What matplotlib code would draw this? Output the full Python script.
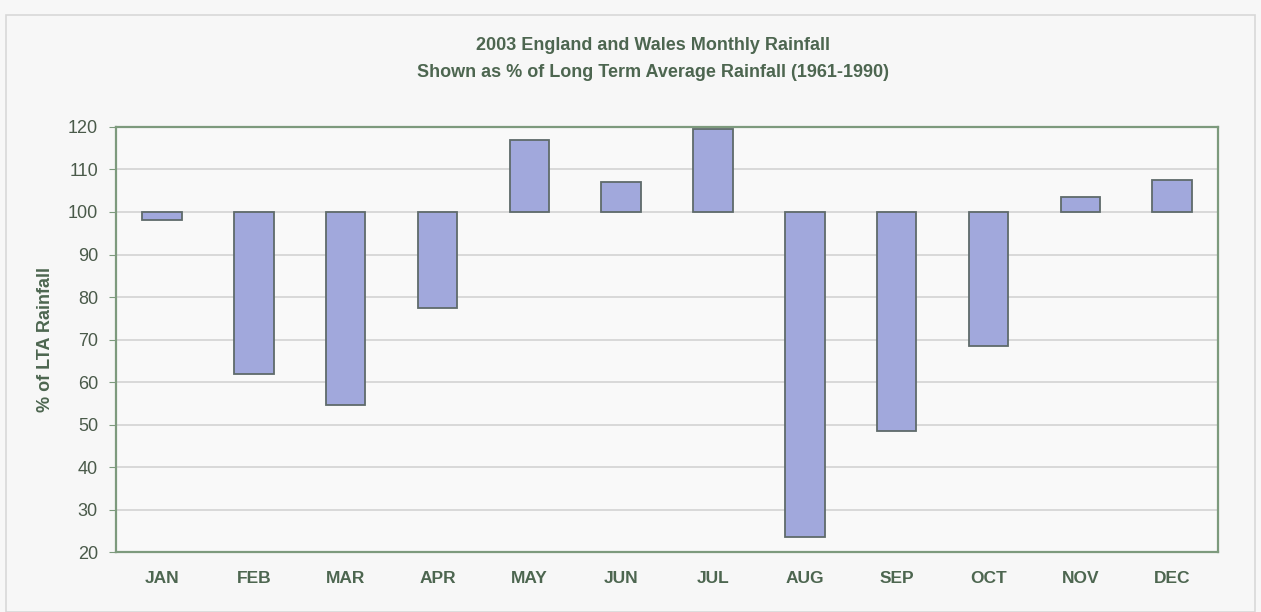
import matplotlib
matplotlib.use("Agg")
import matplotlib.pyplot as plt
import numpy as np

months = ["JAN", "FEB", "MAR", "APR", "MAY", "JUN", "JUL", "AUG", "SEP", "OCT", "NOV", "DEC"]
pct_lta = [98, 62, 54.5, 77.5, 117, 107, 119.5, 23.5, 48.5, 68.5, 103.5, 107.5]
baseline = 100
yticks = [20, 30, 40, 50, 60, 70, 80, 90, 100, 110, 120]

plt.rcParams['font.family'] = ['Liberation Sans', 'DejaVu Sans']
text_col = "#4d6650"
fig = plt.figure(figsize=(12.61, 6.12), dpi=100, facecolor="#f7f7f7")
ax = fig.add_axes([0.092, 0.098, 0.874, 0.6945])
ax.set_facecolor("#f9f9f9")

x = np.arange(len(months))
heights = [v - baseline for v in pct_lta]
ax.bar(x, heights, bottom=baseline, width=0.43, color="#a1a8dc",
       edgecolor="#5f6b6b", linewidth=1.3, zorder=3)

ax.set_ylim(20, 120)
ax.set_xlim(-0.5, len(months) - 0.5)
ax.set_yticks(yticks)
ax.set_yticklabels([str(t) for t in yticks], fontsize=13, color="#4a5a4a")
ax.set_xticks(x)
ax.set_xticklabels(months, fontsize=12.5, color=text_col, fontweight="bold")
ax.tick_params(axis='x', length=0, pad=14)
ax.tick_params(axis='y', length=5, color="#7d9a7d", pad=8)
ax.grid(axis='y', color="#d3d3d3", linewidth=1.2, zorder=0)
for s in ax.spines.values():
    s.set_color("#7d9a7d")
    s.set_linewidth(1.6)

ax.set_ylabel("% of LTA Rainfall", fontsize=13, color=text_col, fontweight="bold", labelpad=10)

fig.text(0.518, 0.925, "2003 England and Wales Monthly Rainfall", ha="center", va="center",
         fontsize=13, color=text_col, fontweight="bold")
fig.text(0.518, 0.881, "Shown as % of Long Term Average Rainfall (1961-1990)", ha="center", va="center",
         fontsize=13, color=text_col, fontweight="bold")

# outer chart border
fig.add_artist(plt.Rectangle((0.005, 0.0), 0.99, 0.975, transform=fig.transFigure,
                             fill=False, edgecolor="#d8d8d8", linewidth=1.2))

fig.savefig("out.png", dpi=100, facecolor=fig.get_facecolor())
